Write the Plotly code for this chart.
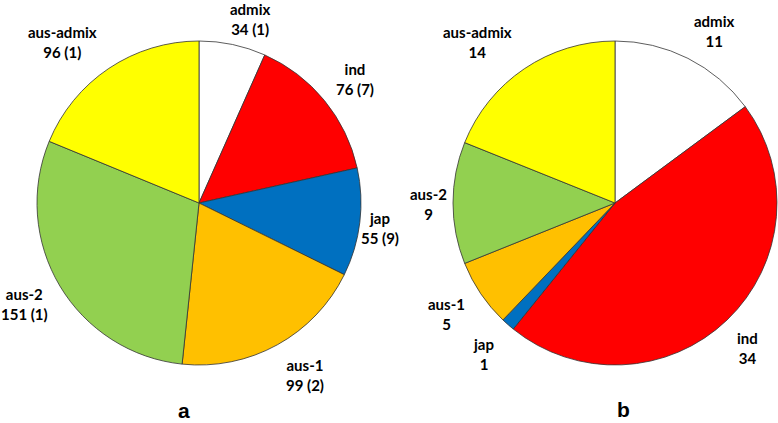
import plotly.graph_objects as go

W, H = 778, 423

groups = ["admix", "ind", "jap", "aus-1", "aus-2", "aus-admix"]
colors = ["#FFFFFF", "#FF0000", "#0070C0", "#FFC000", "#92D050", "#FFFF00"]

counts_a = [34, 76, 55, 99, 151, 96]
extra_a = [1, 7, 9, 2, 1, 1]
counts_b = [11, 34, 1, 5, 9, 14]

# label text centres (pixels) for each panel
label_pos_a = [(250, 19), (355, 79), (380, 228), (305, 375), (24, 304), (63, 42)]
label_pos_b = [(714, 31), (747, 348), (483, 354), (447, 314), (428, 204), (477, 42)]


def domain(cx, cy, r):
    return dict(x=[(cx - r) / W, (cx + r) / W], y=[1 - (cy + r) / H, 1 - (cy - r) / H])


fig = go.Figure()
for vals, dom in [(counts_a, domain(199, 203, 162)), (counts_b, domain(615, 203, 162))]:
    fig.add_trace(go.Pie(
        labels=groups, values=vals, sort=False, direction="clockwise", rotation=0,
        marker=dict(colors=colors, line=dict(color="#333333", width=0.8)),
        textinfo="none", hoverinfo="label+value", domain=dom, showlegend=False,
    ))

font = dict(family="Lato, Carlito, Calibri, sans-serif", size=15, color="black")
annotations = []
for g, v, e, (px, py) in zip(groups, counts_a, extra_a, label_pos_a):
    annotations.append(dict(x=px / W, y=1 - py / H, xref="paper", yref="paper",
                            text=f"<b>{g}<br>{v} ({e})</b>", showarrow=False, font=font,
                            xanchor="center", yanchor="middle", align="center"))
for g, v, (px, py) in zip(groups, counts_b, label_pos_b):
    annotations.append(dict(x=px / W, y=1 - py / H, xref="paper", yref="paper",
                            text=f"<b>{g}<br>{v}</b>", showarrow=False, font=font,
                            xanchor="center", yanchor="middle", align="center"))
for t, px, py in [("a", 184, 410), ("b", 623, 409)]:
    annotations.append(dict(x=px / W, y=1 - py / H, xref="paper", yref="paper",
                            text=f"<b>{t}</b>", showarrow=False,
                            font=dict(family="Liberation Sans, Arial, sans-serif", size=21, color="black"),
                            xanchor="center", yanchor="middle"))

fig.update_layout(width=W, height=H, margin=dict(l=0, r=0, t=0, b=0),
                  paper_bgcolor="white", plot_bgcolor="white", annotations=annotations)
fig.write_html("out.html", config={"displayModeBar": False},
               post_script="document.body.style.margin='0';document.body.style.overflow='hidden';")
